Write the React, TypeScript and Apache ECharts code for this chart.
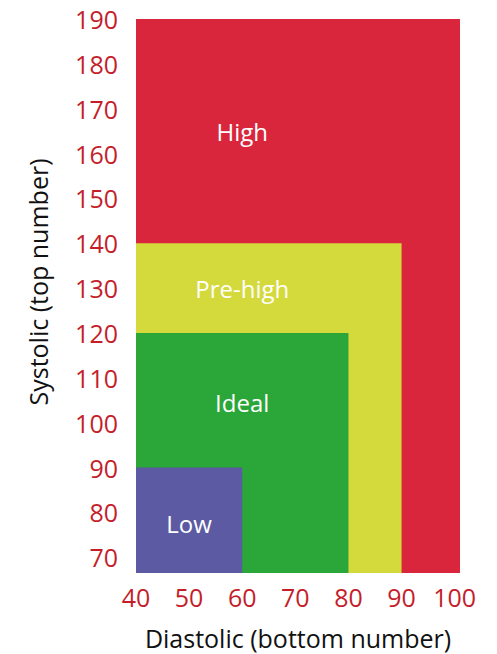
import React, { useEffect, useRef } from "react";
import * as echarts from "echarts";

const categories = ["High", "Pre-high", "Ideal", "Low"];
const systolicMax = [190, 140, 120, 90];
const diastolicMax = [100, 90, 80, 60];
const labelX = [60, 60, 60, 50];
const labelY = [165, 130, 104.5, 77.5];
const colors = ["#D9263D", "#D4D93C", "#2BA638", "#5B5AA3"];
const xTicks = [40, 50, 60, 70, 80, 90, 100];
const yTicks = [70, 80, 90, 100, 110, 120, 130, 140, 150, 160, 170, 180, 190];

const FONT = "'Open Sans', sans-serif";

export default function App() {
  const ref = useRef<HTMLDivElement>(null);
  useEffect(() => {
    if (!ref.current) return;
    const chart = echarts.init(ref.current, undefined, { renderer: "svg" });
    const data = categories.map((c, i) => [diastolicMax[i], systolicMax[i], labelX[i], labelY[i], i]);
    chart.setOption({
      animation: false,
      grid: { left: 136, right: 37, top: 19, bottom: 81, outerBoundsMode: "none", containLabel: false },
      xAxis: {
        type: "value",
        min: 40,
        max: 101,
        name: "Diastolic (bottom number)",
        nameLocation: "middle",
        nameGap: 52,
        nameTextStyle: { color: "#111", fontSize: 25, fontFamily: FONT },
        axisLine: { show: false },
        axisTick: { show: false },
        splitLine: { show: false },
        axisLabel: {
          customValues: xTicks,
          color: "#C41E2A",
          fontSize: 25,
          fontFamily: FONT,
          margin: 11,
        },
      },
      yAxis: {
        type: "value",
        min: 66.5,
        max: 190,
        name: "Systolic (top number)",
        nameLocation: "middle",
        nameGap: 86,
        nameTextStyle: { color: "#111", fontSize: 25, fontFamily: FONT, padding: [0, 0, 0, 28] },
        axisLine: { show: false },
        axisTick: { show: false },
        splitLine: { show: false },
        axisLabel: {
          customValues: yTicks,
          color: "#C41E2A",
          fontSize: 25,
          fontFamily: FONT,
          margin: 18,
        },
      },
      series: [
        {
          type: "custom",
          data,
          encode: { x: 0, y: 1 },
          renderItem: (params: any, api: any) => {
            const idx = api.value(4);
            const cs = params.coordSys;
            const x0 = cs.x;
            const y1 = cs.y + cs.height;
            const p = api.coord([api.value(0), api.value(1)]);
            const right = idx === 0 ? cs.x + cs.width : p[0];
            const top = Math.max(p[1], cs.y);
            const lp = api.coord([api.value(2), api.value(3)]);
            return {
              type: "group",
              children: [
                {
                  type: "rect",
                  shape: { x: x0, y: top, width: right - x0, height: y1 - top },
                  style: { fill: colors[idx] },
                },
                {
                  type: "text",
                  x: lp[0],
                  y: lp[1],
                  style: {
                    text: categories[idx],
                    fill: "#fff",
                    fontSize: 24,
                    fontFamily: FONT,
                    align: "center",
                    verticalAlign: "middle",
                  },
                },
              ],
            };
          },
        },
      ],
    });
    return () => chart.dispose();
  }, []);
  return <div ref={ref} style={{ width: 497, height: 654, position: "absolute", left: 0, top: 0 }} />;
}
